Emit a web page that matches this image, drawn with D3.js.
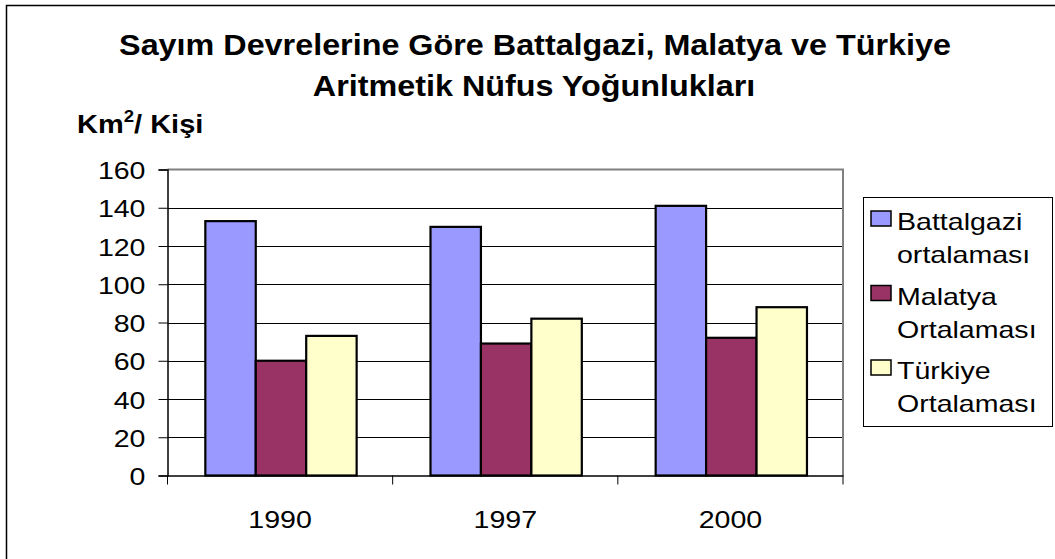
<!DOCTYPE html>
<html>
<head>
<meta charset="utf-8">
<script src="https://cdn.jsdelivr.net/npm/d3@7"></script>
<style>
  body { margin: 0; background: #fff; }
  text { font-family: "Liberation Sans", Arial, sans-serif; fill: #000; }
</style>
</head>
<body>
<div id="chart"></div>
<script>
// chart data
const years = ["1990", "1997", "2000"];
const seriesNames = ["Battalgazi ortalaması", "Malatya Ortalaması", "Türkiye Ortalaması"];
const legendLines = [["Battalgazi", "ortalaması"], ["Malatya", "Ortalaması"], ["Türkiye", "Ortalaması"]];
const battalgazi = [133, 130, 141];
const malatya = [60, 69, 72];
const turkiye = [73, 82, 88];
const yTicks = [0, 20, 40, 60, 80, 100, 120, 140, 160];
const colors = ["#9999ff", "#993366", "#ffffcc"];

const W = 1055, H = 559;
const plot = {left: 167.5, right: 843, top: 169.5, bottom: 475.5};
const sx = 1.19; // the picture is stretched sideways, so text is too
const fontFam = "'Liberation Sans', Arial, sans-serif";

const svg = d3.select("#chart").append("svg")
    .attr("width", W)
    .attr("height", H);

// outer chart border (only top and left visible)
svg.append("rect")
    .attr("x", 6.5).attr("y", 5.5)
    .attr("width", W + 20).attr("height", H + 20)
    .attr("fill", "none").attr("stroke", "#000").attr("stroke-width", 1.5);

// helper for stretched text
function addText(x, y, str, size, weight, anchor, scale) {
  return svg.append("text")
      .attr("transform", `translate(${x},${y}) scale(${scale || sx},1)`)
      .attr("text-anchor", anchor || "start")
      .style("font-family", fontFam)
      .style("font-size", size + "px")
      .style("font-weight", weight || "normal")
      .text(str);
}

// title
addText(535, 55, "Sayım Devrelerine Göre Battalgazi, Malatya ve Türkiye", 29, "bold", "middle", 1.115);
addText(534, 96, "Aritmetik Nüfus Yoğunlukları", 29, "bold", "middle", 1.115);

// y-axis unit label
const unit = svg.append("text")
    .attr("transform", `translate(77,133) scale(1.16,1)`)
    .style("font-family", fontFam)
    .style("font-size", "25px")
    .style("font-weight", "bold");
unit.append("tspan").text("Km");
unit.append("tspan").attr("dy", -11).style("font-size", "16px").text("2");
unit.append("tspan").attr("dy", 11).text("/ Kişi");

// scales
const x = d3.scaleBand().domain(years).range([plot.left, plot.right]).padding(0);
const bw = x.bandwidth();
const xSub = d3.scaleBand().domain(d3.range(3)).range([bw * 0.168, bw * 0.84]);
const y = d3.scaleLinear().domain([0, 160]).range([plot.bottom, plot.top]);

// gridlines
svg.append("g")
    .selectAll("line")
    .data(yTicks.filter(d => d > 0 && d < 160))
    .join("line")
    .attr("x1", plot.left).attr("x2", plot.right)
    .attr("y1", d => Math.round(y(d)) + 0.5).attr("y2", d => Math.round(y(d)) + 0.5)
    .attr("stroke", "#000").attr("stroke-width", 1);

// plot area border top/right in grey
svg.append("path")
    .attr("d", `M${plot.left},${plot.top}H${plot.right}V${plot.bottom}`)
    .attr("fill", "none").attr("stroke", "#808080").attr("stroke-width", 2);

// bars
const seriesData = [battalgazi, malatya, turkiye];
seriesData.forEach((vals, si) => {
  svg.append("g")
      .selectAll("rect")
      .data(vals)
      .join("rect")
      .attr("x", (d, i) => x(years[i]) + xSub(si))
      .attr("width", xSub.bandwidth())
      .attr("y", d => y(d))
      .attr("height", d => y(0) - y(d))
      .attr("fill", colors[si])
      .attr("stroke", "#000")
      .attr("stroke-width", 2.2);
});

// y axis
const yAxis = svg.append("g")
    .attr("transform", `translate(${plot.left},0)`)
    .call(d3.axisLeft(y).tickValues(yTicks).tickSize(9).tickPadding(12));
yAxis.select(".domain").attr("stroke", "#000").attr("stroke-width", 1.5);
yAxis.selectAll(".tick line").attr("stroke", "#000");
yAxis.selectAll(".tick text")
    .attr("x", null).attr("dy", null)
    .attr("transform", `translate(-22,9) scale(${sx},1)`)
    .style("font-size", "24px")
    .style("font-family", fontFam);

// x axis
const xAxis = svg.append("g")
    .attr("transform", `translate(0,${plot.bottom})`)
    .call(d3.axisBottom(x).tickSize(0).tickPadding(0));
xAxis.select(".domain").attr("stroke", "#000").attr("stroke-width", 1.5);
xAxis.selectAll(".tick text")
    .attr("y", null).attr("dy", null)
    .attr("transform", `translate(0,52) scale(${sx},1)`)
    .style("font-size", "24px")
    .style("font-family", fontFam);
// ticks between categories
xAxis.append("g")
    .selectAll("line")
    .data(years.map(d => x(d)).concat([plot.right]))
    .join("line")
    .attr("x1", d => d).attr("x2", d => d)
    .attr("y1", 0).attr("y2", 9)
    .attr("stroke", "#000");

// legend
const lg = {x: 863, y: 197, w: 189, h: 229};
svg.append("rect")
    .attr("x", lg.x + 0.5).attr("y", lg.y + 0.5)
    .attr("width", lg.w).attr("height", lg.h)
    .attr("fill", "#fff").attr("stroke", "#000").attr("stroke-width", 1);
legendLines.forEach((lines, i) => {
  const base = 230 + i * 74.5;
  svg.append("rect")
      .attr("x", 871).attr("y", base - 19)
      .attr("width", 20).attr("height", 15)
      .attr("fill", colors[i]).attr("stroke", "#000").attr("stroke-width", 1.5);
  addText(897, base, lines[0], 24);
  addText(897, base + 33, lines[1], 24);
});
</script>
</body>
</html>
